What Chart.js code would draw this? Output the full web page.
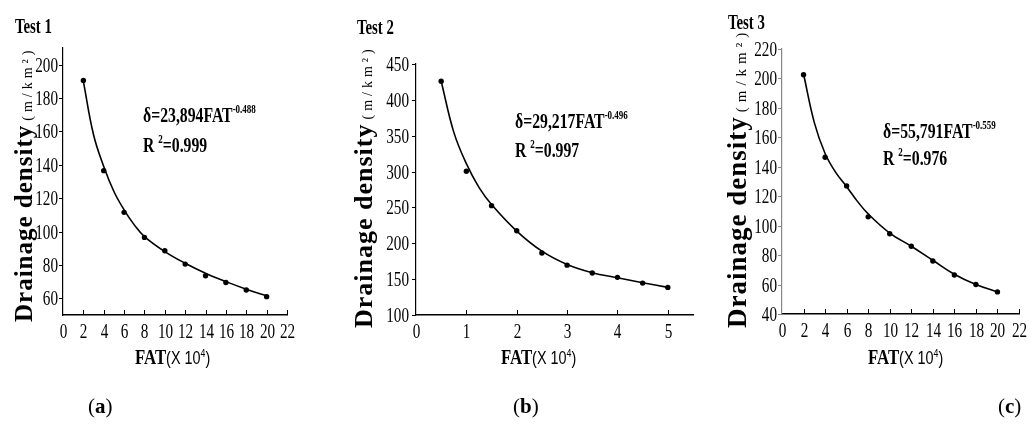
<!DOCTYPE html>
<html>
<head>
<meta charset="utf-8">
<script src="https://cdn.jsdelivr.net/npm/chart.js@4.4.1/dist/chart.umd.min.js"></script>
<style>
  body { margin: 0; background: #fff; }
  #wrap { position: relative; width: 1030px; height: 436px; overflow: hidden; font-family: "Liberation Serif", serif; color: #000; }
  canvas { position: absolute; left: 0; top: 0; }
  .t { position: absolute; white-space: nowrap; line-height: 1; transform-origin: 0 0; }
  .test { font-size: 20px; font-weight: bold; transform: scaleX(0.74); }
  .eq { font-size: 21px; font-weight: bold; transform: scaleX(0.75); }
  .eq sup { font-size: 12px; vertical-align: 0; position: relative; top: -9px; }
  .xt { font-size: 21px; transform: scaleX(0.8); }
  .xt b { font-weight: bold; }
  .xt span { font-family: "Liberation Sans", sans-serif; font-size: 18px; }
  .xt sup { font-size: 11px; vertical-align: 0; position: relative; top: -7px; }
  .yt { font-weight: bold; transform: rotate(-90deg); }
  .yt span { font-weight: normal; }
  .cap { font-size: 21px; }
</style>
</head>
<body>
<div id="wrap">
  <canvas id="c1" width="1030" height="436"></canvas>
  <canvas id="c2" width="1030" height="436"></canvas>
  <canvas id="c3" width="1030" height="436"></canvas>

  <div class="t test" style="left:15px; top:16px;">Test 1</div>
  <div class="t test" style="left:357px; top:17px;">Test 2</div>
  <div class="t test" style="left:728px; top:12px;">Test 3</div>

  <div class="t eq" style="left:143px; top:105px;">δ=23,894FAT<sup>-0.488</sup></div>
  <div class="t eq" style="left:143px; top:135px;">R <sup>2</sup>=0.999</div>
  <div class="t eq" style="left:515px; top:111px;">δ=29,217FAT<sup>-0.496</sup></div>
  <div class="t eq" style="left:515px; top:140px;">R <sup>2</sup>=0.997</div>
  <div class="t eq" style="left:883px; top:121px;">δ=55,791FAT<sup>-0.559</sup></div>
  <div class="t eq" style="left:883px; top:148px;">R <sup>2</sup>=0.976</div>

  <div class="t xt" style="left:135px; top:347px;"><b>FAT</b><span>(X 10<sup>4</sup>)</span></div>
  <div class="t xt" style="left:501px; top:347px;"><b>FAT</b><span>(X 10<sup>4</sup>)</span></div>
  <div class="t xt" style="left:868px; top:347px;"><b>FAT</b><span>(X 10<sup>4</sup>)</span></div>

  <div class="t yt" style="left:11px; top:322px; font-size:25px; letter-spacing:1px;">Drainage density<span style="font-size:14px; letter-spacing:4px; margin-left:4px;">(m/km²)</span></div>
  <div class="t yt" style="left:351px; top:328px; font-size:26px; letter-spacing:1px;">Drainage density<span style="font-size:14px; letter-spacing:4px; margin-left:4px;">(m/km²)</span></div>
  <div class="t yt" style="left:724px; top:328px; font-size:27px; letter-spacing:1px;">Drainage density<span style="font-size:15px; letter-spacing:5px; margin-left:4px;">(m/km²)</span></div>

  <div class="t cap" style="left:88px; top:396px;">(<b>a</b>)</div>
  <div class="t cap" style="left:513px; top:396px;">(<b>b</b>)</div>
  <div class="t cap" style="left:998px; top:396px;">(<b>c</b>)</div>
</div>

<script>
// --- data ---
// measured points
const fat1 = [2, 4, 6, 8, 10, 12, 14, 16, 18, 20];
const density1 = [190.5, 136.5, 111.5, 96.5, 88.5, 80.5, 73.5, 69.5, 65, 61];
// fitted curve as drawn
const fitX1 = [2, 3, 4, 5, 6, 7, 8, 10, 12, 14, 16, 18, 20];
const fitY1 = [190, 158, 139, 124, 113, 104, 97, 88, 81, 75, 70, 65.5, 61.5];
const xTicks1 = [0, 2, 4, 6, 8, 10, 12, 14, 16, 18, 20, 22];
const yTicks1 = [60, 80, 100, 120, 140, 160, 180, 200];

const fat2 = [0.5, 1, 1.5, 2, 2.5, 3, 3.5, 4, 4.5, 5];
const density2 = [426, 300.5, 252.5, 217.5, 186.5, 169.5, 158.5, 152.5, 144.5, 138.5];
const fitX2 = [0.5, 0.75, 1, 1.25, 1.5, 2, 2.5, 3, 3.5, 4, 4.5, 5];
const fitY2 = [426, 355, 311, 278, 254, 217, 189, 170.5, 159, 152, 145, 138.5];
const xTicks2 = [0, 1, 2, 3, 4, 5];
const yTicks2 = [100, 150, 200, 250, 300, 350, 400, 450];

const fat3 = [2, 4, 6, 8, 10, 12, 14, 16, 18, 20];
const density3 = [202.5, 146.5, 127, 106, 94.5, 86, 76, 66.5, 60, 55];
const fitX3 = [2, 3, 4, 5, 6, 7, 8, 10, 12, 14, 16, 18, 20];
const fitY3 = [203, 170, 149, 136, 126.5, 116.5, 108, 95, 86, 76.5, 67, 60, 55];
const xTicks3 = [0, 2, 4, 6, 8, 10, 12, 14, 16, 18, 20, 22];
const yTicks3 = [40, 60, 80, 100, 120, 140, 160, 180, 200, 220];

// tick marks + condensed serif labels, placed by the chart's own scales
const axisMarks = {
    id: 'axisMarks',
    afterDraw(chart, args, o) {
        const { ctx, chartArea: a, scales: { x, y } } = chart;
        ctx.save();
        ctx.lineWidth = 1;
        ctx.fillStyle = '#000';
        ctx.font = '20px "Liberation Serif", serif';

        ctx.strokeStyle = o.yColor;
        y.ticks.forEach(t => {
            const py = Math.round(y.getPixelForValue(t.value)) + 0.5;
            ctx.beginPath(); ctx.moveTo(a.left - 4, py); ctx.lineTo(a.left, py); ctx.stroke();
            ctx.save();
            ctx.translate(a.left - o.yGap, py + 6.8);
            ctx.scale(0.76, 1);
            ctx.textAlign = 'right';
            ctx.fillText(String(t.value), 0, 0);
            ctx.restore();
        });

        ctx.strokeStyle = '#000';
        x.ticks.forEach(t => {
            const px = Math.round(x.getPixelForValue(t.value)) + 0.5;
            if (t.value !== 0) {
                ctx.beginPath(); ctx.moveTo(px, a.bottom); ctx.lineTo(px, a.bottom - 5); ctx.stroke();
            }
            ctx.save();
            ctx.translate(px, a.bottom + 23);
            ctx.scale(0.76, 1);
            ctx.textAlign = 'center';
            ctx.fillText(String(t.value), 0, 0);
            ctx.restore();
        });
        ctx.restore();
    }
};

function makePanel(id, xs, ys, fx, fy, xTicks, yTicks, area, yColor, yGap) {
    new Chart(document.getElementById(id), {
        type: 'scatter',
        data: {
            datasets: [{
                data: xs.map((v, i) => ({ x: v, y: ys[i] })),
                showLine: false,
                backgroundColor: '#000',
                pointRadius: 2.7,
                pointBorderWidth: 0,
            }, {
                data: fx.map((v, i) => ({ x: v, y: fy[i] })),
                showLine: true,
                tension: 0.4,
                borderColor: '#000',
                borderWidth: 1.6,
                pointRadius: 0,
            }]
        },
        options: {
            responsive: false,
            animation: false,
            events: [],
            layout: { padding: { left: area.l, right: 1030 - area.r, top: area.t, bottom: 436 - area.b } },
            plugins: { legend: { display: false }, tooltip: { enabled: false }, axisMarks: { yColor, yGap } },
            scales: {
                x: {
                    type: 'linear', min: area.xMin, max: area.xMax,
                    afterBuildTicks: s => { s.ticks = xTicks.map(v => ({ value: v })); },
                    ticks: { display: false },
                    grid: { display: false, drawTicks: false },
                    border: { display: true, color: '#000', width: 1.6 },
                },
                y: {
                    type: 'linear', min: area.yMin, max: area.yMax,
                    afterBuildTicks: s => { s.ticks = yTicks.map(v => ({ value: v })); },
                    ticks: { display: false },
                    grid: { display: false, drawTicks: false },
                    border: { display: true, color: yColor, width: 1.2 },
                }
            }
        },
        plugins: [axisMarks]
    });
}

makePanel('c1', fat1, density1, fitX1, fitY1, xTicks1, yTicks1,
    { l: 63, r: 287, t: 48, b: 315, xMin: 0, xMax: 22, yMin: 50, yMax: 210 }, '#000', 5);
makePanel('c2', fat2, density2, fitX2, fitY2, xTicks2, yTicks2,
    { l: 416, r: 693, t: 64, b: 315, xMin: 0, xMax: 5.5, yMin: 100, yMax: 450 }, '#000', 7);
makePanel('c3', fat3, density3, fitX3, fitY3, xTicks3, yTicks3,
    { l: 782, r: 1019, t: 49, b: 314, xMin: 0, xMax: 22, yMin: 40, yMax: 220 }, '#888', 5);
</script>
</body>
</html>
